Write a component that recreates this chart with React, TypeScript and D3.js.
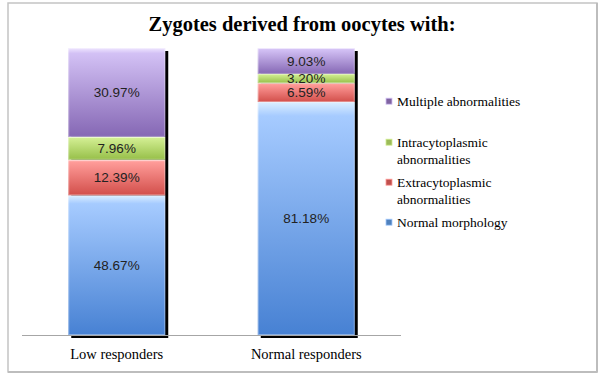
import React from "react";
import * as d3 from "d3";

const categories = ["Low responders", "Normal responders"];
const seriesNames = [
  "Normal morphology",
  "Extracytoplasmic abnormalities",
  "Intracytoplasmic abnormalities",
  "Multiple abnormalities",
];
const normalMorphology = [48.67, 81.18];
const extracytoplasmic = [12.39, 6.59];
const intracytoplasmic = [7.96, 3.2];
const multiple = [30.97, 9.03];
const legendLines = [
  ["Multiple abnormalities"],
  ["Intracytoplasmic", "abnormalities"],
  ["Extracytoplasmic", "abnormalities"],
  ["Normal morphology"],
];
const title = "Zygotes derived from oocytes with:";

const gradients = [
  { id: "gBlue", hi: "#dcefff", top: "#a6cbff", bot: "#4781d3", mark: "#4f81bd" },
  { id: "gRed", hi: "#ffd0ce", top: "#ff9c99", bot: "#d24e4a", mark: "#c0504d" },
  { id: "gGreen", hi: "#f0ffd0", top: "#d2ee92", bot: "#96bf48", mark: "#9bbb59" },
  { id: "gPurple", hi: "#efe6ff", top: "#d3c1f5", bot: "#8567b4", mark: "#8064a2" },
];

export default function App() {
  const values = [normalMorphology, extracytoplasmic, intracytoplasmic, multiple];
  const x = d3.scaleBand<string>().domain(categories).range([22, 401]).padding(0);
  const y = d3.scaleLinear().domain([0, 100]).range([335, 48]);
  const barW = 97;

  const rows = categories.map((c, i) => {
    const obj: any = { cat: c };
    seriesNames.forEach((s, k) => (obj[s] = values[k][i]));
    return obj;
  });
  const stacked = d3.stack<any>().keys(seriesNames)(rows);

  const serif = "'Liberation Serif', 'DejaVu Serif', serif";
  const sans = "'Liberation Sans', Arial, sans-serif";

  const legendY = [101.7, 142.7, 182.7, 222.7];
  const legendColorIdx = [3, 2, 1, 0];

  return (
    <svg
      width={606}
      height={378}
      style={{ position: "absolute", left: 0, top: 0, background: "#fff" }}
    >
      <defs>
        {gradients.map((g) => (
          <linearGradient key={g.id} id={g.id} x1="0" y1="0" x2="0" y2="1">
            <stop offset="0" stopColor={g.hi} />
            <stop offset="0.06" stopColor={g.top} />
            <stop offset="1" stopColor={g.bot} />
          </linearGradient>
        ))}
      </defs>
      {/* frame */}
      <rect x={8} y={3} width={589} height={369} fill="#fff" stroke="#c4c4c4" strokeWidth={1.5} />
      <line x1={597} y1={3} x2={597} y2={372.5} stroke="#bdbdbd" strokeWidth={2} />
      <line x1={8} y1={372} x2={597} y2={372} stroke="#bdbdbd" strokeWidth={2} />

      <text x={302} y={31} textAnchor="middle" fontFamily={serif} fontWeight="bold" fontSize={20.5} fill="#000">
        {title}
      </text>

      {/* shadows */}
      {categories.map((c) => {
        const cx = (x(c) as number) + x.bandwidth() / 2;
        return (
          <rect key={"sh" + c} x={cx - barW / 2 + 3} y={y(100) + 3} width={barW} height={y(0) - y(100)} fill="#000" />
        );
      })}

      {/* axis */}
      <line x1={22} y1={335.5} x2={401} y2={335.5} stroke="#a6a6a6" strokeWidth={1} />

      {stacked.map((layer, k) =>
        layer.map((d, i) => {
          const c = categories[i];
          const cx = (x(c) as number) + x.bandwidth() / 2;
          const y0 = y(d[0]);
          const y1 = y(d[1]);
          return (
            <g key={k + "-" + i}>
              <rect x={cx - barW / 2} y={y1} width={barW} height={y0 - y1} fill={`url(#${gradients[k].id})`} />
              <rect x={cx - barW / 2 + 0.5} y={y1 + 0.5} width={barW - 1} height={y0 - y1 - 1} fill="none" stroke="rgba(255,255,255,0.35)" strokeWidth={1} />
              <text
                x={cx}
                y={(y0 + y1) / 2}
                dy="0.36em"
                textAnchor="middle"
                fontFamily={sans}
                fontSize={13.5}
                fill="#222"
              >
                {values[k][i].toFixed(2)}%
              </text>
            </g>
          );
        })
      )}

      {categories.map((c) => {
        const cx = (x(c) as number) + x.bandwidth() / 2;
        return (
          <text key={"l" + c} x={cx} y={359} textAnchor="middle" fontFamily={serif} fontSize={14.5} fill="#000">
            {c}
          </text>
        );
      })}

      {legendLines.map((lines, j) => {
        const g = gradients[legendColorIdx[j]];
        const ly = legendY[j];
        return (
          <g key={"lg" + j}>
            <rect x={386} y={ly - 3.5} width={6} height={6} fill={g.mark} stroke={g.top} strokeWidth={0.8} />
            {lines.map((t, m) => (
              <text key={m} x={397} y={ly + m * 16.5} dy="0.35em" fontFamily={serif} fontSize={13.5} fill="#000">
                {t}
              </text>
            ))}
          </g>
        );
      })}
    </svg>
  );
}
